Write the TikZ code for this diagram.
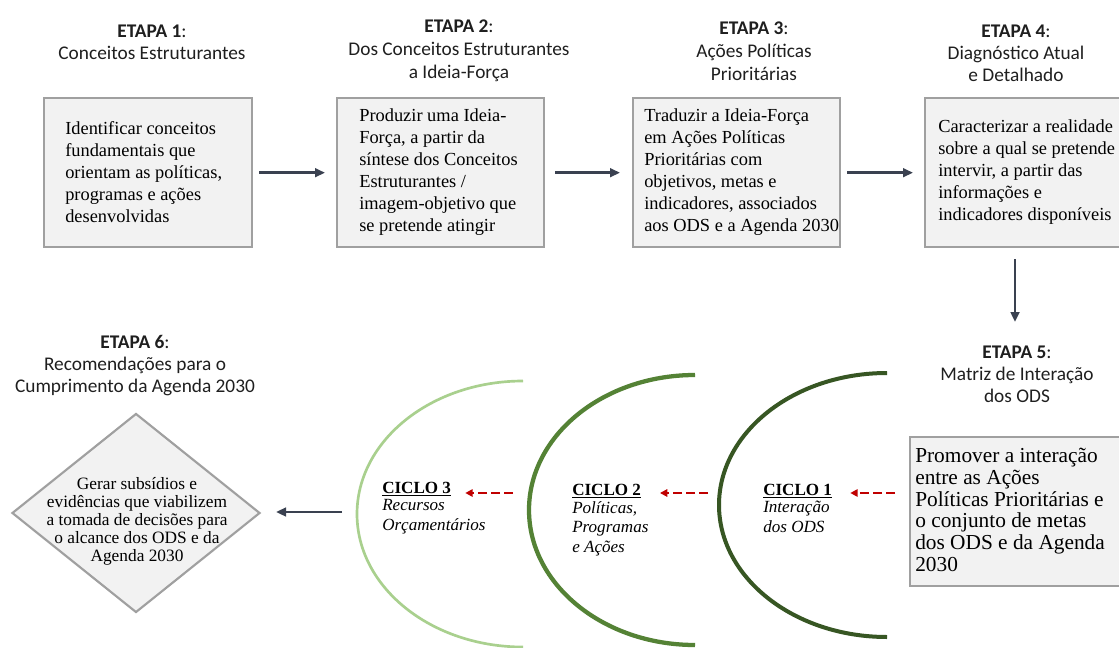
\documentclass[tikz,border=0pt]{standalone}
\usepackage{fontspec}
\setmainfont{Liberation Serif}
\newfontfamily\titlefont{Carlito}
\usetikzlibrary{arrows.meta,shapes.geometric}
\definecolor{boxfill}{HTML}{F2F2F2}
\definecolor{boxdraw}{HTML}{A0A0A0}
\definecolor{arrowc}{HTML}{3A4150}
\definecolor{redc}{HTML}{C00000}
\definecolor{greenA}{HTML}{375623}
\definecolor{greenB}{HTML}{548235}
\definecolor{greenC}{HTML}{A9D08E}
\begin{document}
\begin{tikzpicture}[x=0.75pt,y=-0.75pt,
  stepbox/.style={draw=boxdraw, fill=boxfill, line width=1.8pt, inner sep=0pt, anchor=north west, minimum height=111.75pt},
  boxtext/.style={anchor=west, align=left, inner sep=0pt, font=\fontsize{13.8}{16.5}\selectfont},
  titletxt/.style={align=center, inner sep=0pt, text=black!88, font=\titlefont\fontsize{14.5}{16.5}\selectfont},
  arr/.style={draw=arrowc, line width=2pt, -{Triangle[length=7.5pt,width=6.5pt]}},
  redarr/.style={draw=redc, line width=1.5pt, dash pattern=on 6.75pt off 3pt, -{Triangle[length=5.5pt,width=5.5pt]}},
  cychead/.style={anchor=base west, inner sep=0pt, font=\fontsize{12.8}{15}\selectfont\bfseries},
  cycsub/.style={anchor=north west, align=left, inner sep=0pt, font=\fontsize{12.8}{14.7}\selectfont\itshape}
]
\useasboundingbox (0,0) rectangle (1119,648);
\fill[white] (0,0) rectangle (1119,648);

% titles
\node[titletxt] (t1) at (152,42) {{\bfseries ETAPA 1}:\\Conceitos Estruturantes};
\node[titletxt, font=\titlefont\fontsize{14.5}{17.2}\selectfont] (t2) at (459,51) {{\bfseries ETAPA 2}:\\Dos Conceitos Estruturantes\\a Ideia-Força};
\node[titletxt, font=\titlefont\fontsize{14.5}{17.2}\selectfont] (t3) at (754,51) {{\bfseries ETAPA 3}:\\Ações Políticas\\Prioritárias};
\node[titletxt] (t4) at (1016,53) {{\bfseries ETAPA 4}:\\Diagnóstico Atual\\e Detalhado};
\node[titletxt] (t5) at (1017,374) {{\bfseries ETAPA 5}:\\Matriz de Interação\\dos ODS};
\node[titletxt] (t6) at (135,366) {{\bfseries ETAPA 6}:\\Recomendações para o\\Cumprimento da Agenda 2030};

% boxes
\node[stepbox, minimum width=156pt] (box1) at (43,97) {};
\node[stepbox, minimum width=155.25pt] (box2) at (336,97) {};
\node[stepbox, minimum width=155.25pt] (box3) at (632,97) {};
\node[stepbox, minimum width=165pt] (box4) at (924,97) {};
\node[stepbox, minimum width=180pt] (box5) at (909,436) {};

\node[boxtext] (txt1) at (65,172) {Identificar conceitos\\fundamentais que\\orientam as políticas,\\programas e ações\\desenvolvidas};
\node[boxtext] (txt2) at (359,172) {Produzir uma Ideia-\\Força, a partir da\\síntese dos Conceitos\\Estruturantes /\\imagem-objetivo que\\se pretende atingir};
\node[boxtext] (txt3) at (644,172) {Traduzir a Ideia-Força\\em Ações Políticas\\Prioritárias com\\objetivos, metas e\\indicadores, associados\\aos ODS e a Agenda 2030};
\node[boxtext] (txt4) at (938,172) {Caracterizar a realidade\\sobre a qual se pretende\\intervir, a partir das\\informações e\\indicadores disponíveis};
\node[boxtext, font=\fontsize{16}{16.3}\selectfont] (txt5) at (915,510) {Promover a interação\\entre as Ações\\Políticas Prioritárias e\\o conjunto de metas\\dos ODS e da Agenda\\2030};

% diamond
\node[diamond, draw=boxdraw, fill=boxfill, line width=1.6pt, inner sep=0pt, minimum width=186pt, minimum height=149.25pt] (dia) at (136,513) {};
\node[align=center, inner sep=0pt, font=\fontsize{13}{13.5}\selectfont] (diatxt) at (137,521) {Gerar subsídios e\\evidências que viabilizem\\a tomada de decisões para\\o alcance dos ODS e da\\Agenda 2030};

% arcs
\draw[greenA, line width=3pt] (887,373) arc[start angle=90, end angle=270, x radius=126pt, y radius=99pt];
\draw[greenB, line width=3.2pt] (695,375) arc[start angle=90, end angle=270, x radius=124.5pt, y radius=101.25pt];
\draw[greenC, line width=2pt] (523,381) arc[start angle=90, end angle=270, x radius=124.5pt, y radius=99.75pt];

% cycle labels
\node[cychead] (c1h) at (763,495) {\underline{CICLO 1}};
\node[cycsub] (c1s) at (763,501) {Interação\\dos ODS};
\node[cychead] (c2h) at (572,495) {\underline{CICLO 2}};
\node[cycsub] (c2s) at (572,501) {Políticas,\\Programas\\e Ações};
\node[cychead] (c3h) at (382,493) {\underline{CICLO 3}};
\node[cycsub] (c3s) at (382,499) {Recursos\\Orçamentários};

% connectors
\draw[arr, shorten <=4.5pt, shorten >=8.25pt] (box1.east) -- (box2.west);
\draw[arr, shorten <=7.5pt, shorten >=9pt] (box2.east) -- (box3.west);
\draw[arr, shorten <=4.5pt, shorten >=8.25pt] (box3.east) -- (box4.west);
\coordinate (d4) at (1015,322);
\draw[arr, shorten <=8pt] (box4.south -| d4) -- (d4);

\coordinate (r1) at (895,493);
\coordinate (r2) at (708,493);
\coordinate (r3) at (513,493);
\draw[redarr, shorten >=13.5pt] (r1) -- (c1h.east |- r1);
\draw[redarr, shorten >=14pt] (r2) -- (c2h.east |- r2);
\draw[redarr, shorten >=10.5pt] (r3) -- (c3h.east |- r3);

\coordinate (a3) at (342,512);
\draw[arr, shorten >=11.25pt] (a3) -- (dia.east |- a3);
\end{tikzpicture}
\end{document}
